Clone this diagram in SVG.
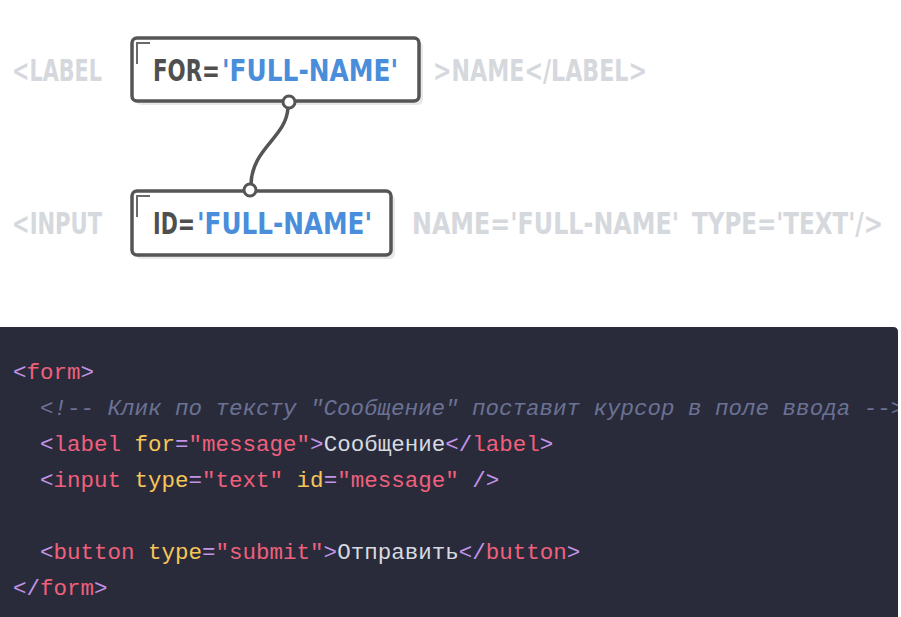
<svg xmlns="http://www.w3.org/2000/svg" width="901" height="617" viewBox="0 0 901 617">
<style>
.gray{font-family:"DejaVu Sans Condensed","DejaVu Sans",sans-serif;font-weight:bold;font-size:30px;fill:#d5d8dc}
.btxt{font-family:"DejaVu Sans Condensed","DejaVu Sans",sans-serif;font-weight:bold;font-size:30px;fill:#4f4f4f}
.blue{fill:#4a8edb}
.box{fill:#fff;stroke:#555;stroke-width:3.5}
.shadow{fill:#e8e8e8}
.acc{fill:none;stroke:#6a6a6a;stroke-width:2}
.conn{fill:none;stroke:#555;stroke-width:3.5;stroke-linecap:round}
.dot{fill:#fff;stroke:#555;stroke-width:3}
.code{font-family:"Liberation Mono","DejaVu Sans Mono",monospace;font-size:22.5px;fill:#d7dae0}
.p{fill:#c394e6}
.t{fill:#f0607c}
.a{fill:#f7c657}
.s{fill:#f0607c}
.c{fill:#6b7293;font-style:italic}
</style>
<defs>
<clipPath id="codeclip"><rect x="0" y="327" width="898" height="290"/></clipPath>
</defs>

<text class="gray" x="12" y="81" textLength="90" lengthAdjust="spacingAndGlyphs">&lt;LABEL</text>
<text class="gray" x="433" y="81" textLength="214" lengthAdjust="spacingAndGlyphs">&gt;NAME&lt;/LABEL&gt;</text>
<text class="gray" x="12" y="234" textLength="90" lengthAdjust="spacingAndGlyphs">&lt;INPUT</text>
<text class="gray" x="412" y="234" textLength="267" lengthAdjust="spacingAndGlyphs">NAME='FULL-NAME'</text>
<text class="gray" x="692" y="234" textLength="191" lengthAdjust="spacingAndGlyphs">TYPE='TEXT'/&gt;</text>

<g id="node-for">
<rect class="shadow" x="136" y="42" width="287" height="63" rx="5"/>
<rect class="box" x="132" y="38" width="287" height="63" rx="5"/>
<path class="acc" d="M137,64 V43 H150"/>
<text class="btxt" x="153" y="81" textLength="67" lengthAdjust="spacingAndGlyphs">FOR=</text>
<text class="btxt blue" x="222" y="81" textLength="176" lengthAdjust="spacingAndGlyphs">'FULL-NAME'</text>
</g>

<g id="node-id">
<rect class="shadow" x="136" y="195" width="259" height="64" rx="5"/>
<rect class="box" x="132" y="191" width="259" height="64" rx="5"/>
<path class="acc" d="M137,217 V196 H150"/>
<text class="btxt" x="153" y="234" textLength="42" lengthAdjust="spacingAndGlyphs">ID=</text>
<text class="btxt blue" x="197" y="234" textLength="175" lengthAdjust="spacingAndGlyphs">'FULL-NAME'</text>
</g>

<g id="connectors">
<path class="conn" d="M288,108 C286,138 252,148 251,184"/>
<circle class="dot" cx="289" cy="102" r="6"/>
<circle class="dot" cx="250" cy="190" r="6"/>
</g>

<g id="code">
<path d="M0,327 H893 Q898,327 898,332 V617 H0 Z" fill="#292b3b"/>
<g clip-path="url(#codeclip)" class="code">
<text x="13" y="379"><tspan class="p">&lt;</tspan><tspan class="t">form</tspan><tspan class="p">&gt;</tspan></text>
<text x="40" y="415" class="c">&lt;!-- Клик по тексту "Сообщение" поставит курсор в поле ввода --&gt;</text>
<text x="40" y="451"><tspan class="p">&lt;</tspan><tspan class="t">label</tspan> <tspan class="a">for</tspan><tspan class="p">=</tspan><tspan class="s">"message"</tspan><tspan class="p">&gt;</tspan>Сообщение<tspan class="p">&lt;/</tspan><tspan class="t">label</tspan><tspan class="p">&gt;</tspan></text>
<text x="40" y="487"><tspan class="p">&lt;</tspan><tspan class="t">input</tspan> <tspan class="a">type</tspan><tspan class="p">=</tspan><tspan class="s">"text"</tspan> <tspan class="a">id</tspan><tspan class="p">=</tspan><tspan class="s">"message"</tspan> <tspan class="p">/&gt;</tspan></text>
<text x="40" y="559"><tspan class="p">&lt;</tspan><tspan class="t">button</tspan> <tspan class="a">type</tspan><tspan class="p">=</tspan><tspan class="s">"submit"</tspan><tspan class="p">&gt;</tspan>Отправить<tspan class="p">&lt;/</tspan><tspan class="t">button</tspan><tspan class="p">&gt;</tspan></text>
<text x="13" y="595"><tspan class="p">&lt;/</tspan><tspan class="t">form</tspan><tspan class="p">&gt;</tspan></text>
</g>
</g>
</svg>
